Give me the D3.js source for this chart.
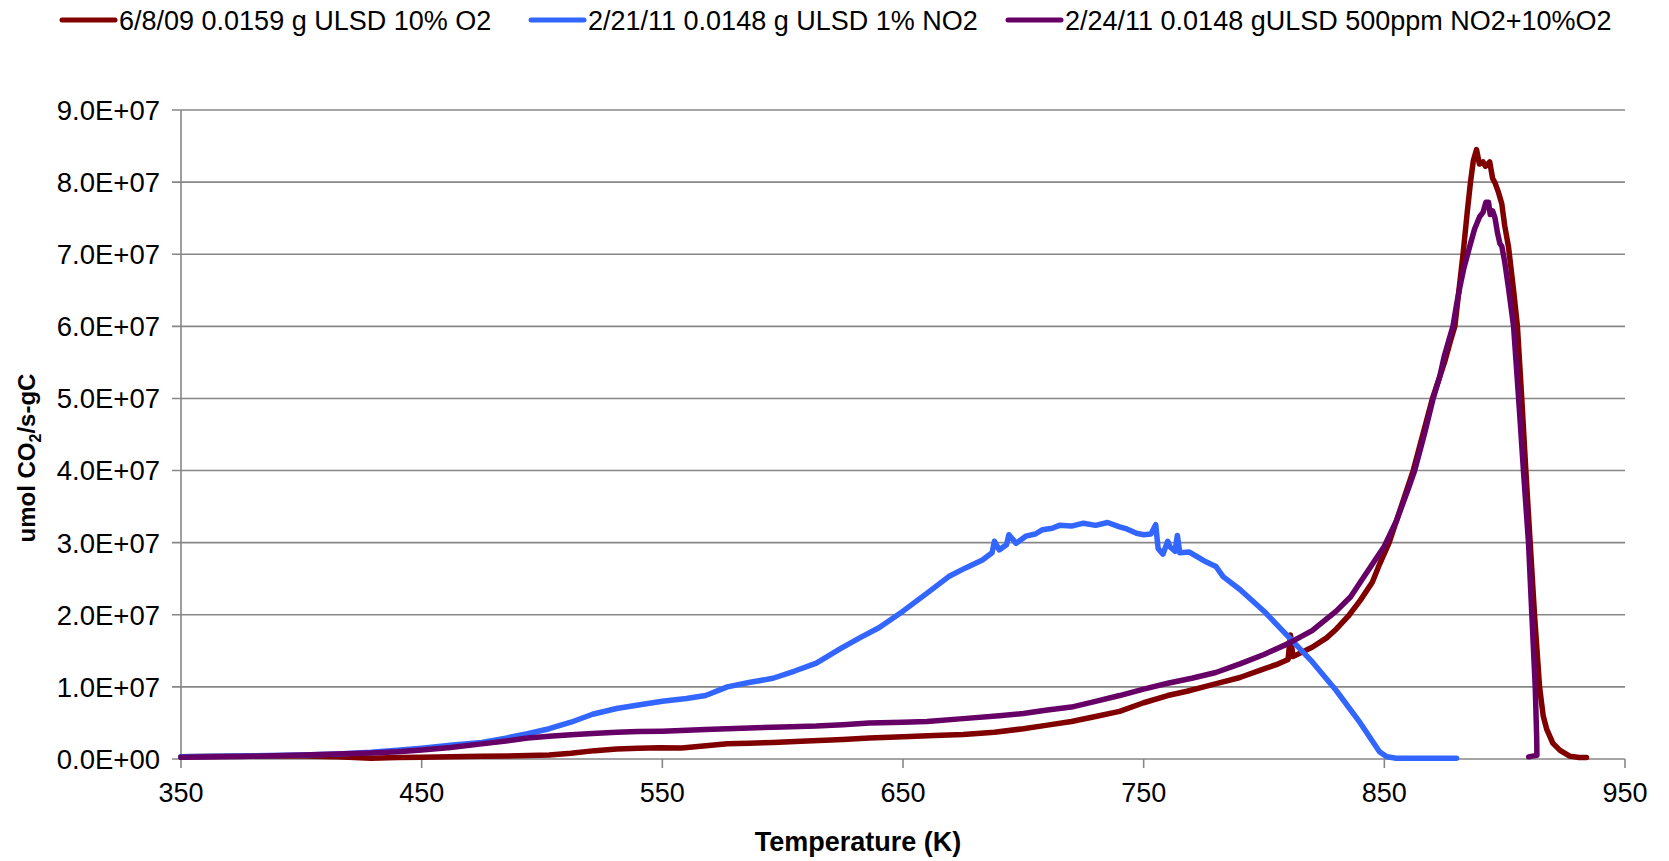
<!DOCTYPE html>
<html>
<head>
<meta charset="utf-8">
<script src="https://cdn.jsdelivr.net/npm/d3@7"></script>
<style>
  body { margin: 0; background: #fff; }
  svg text { font-family: "Liberation Sans", Arial, sans-serif; fill: #000; }
</style>
</head>
<body>
<div id="chart"></div>
<script>
// values are in units of 1E+07 umol CO2/s-gC, temperature in K
const seriesNames = [
  '6/8/09 0.0159 g ULSD 10% O2',
  '2/21/11 0.0148 g ULSD 1% NO2',
  '2/24/11 0.0148 gULSD 500ppm NO2+10%O2'
];
const seriesColors = ['#800000', '#3366ff', '#660066'];

const redData = [
  [350,0.03],[375,0.04],[401,0.04],[415,0.03],[429,0.01],[440,0.02],[450,0.023],[462,0.03],
  [475,0.037],[490,0.045],[503,0.056],[512,0.08],[522,0.116],[531,0.14],[540,0.15],[549,0.155],
  [558,0.153],[567,0.18],[577,0.21],[586,0.22],[596,0.23],[610,0.25],[625,0.27],[636,0.29],
  [650,0.31],[663,0.325],[675,0.34],[688,0.37],[700,0.42],[710,0.47],[720,0.52],[730,0.59],
  [740,0.66],[750,0.78],[760,0.88],[768,0.94],[775,1.0],[783,1.07],[790,1.13],[800,1.25],
  [806,1.32],[810,1.38],[811,1.72],[812,1.42],[820,1.55],[826,1.68],[830,1.8],[835,1.98],
  [840,2.2],[845,2.45],[848,2.7],[852,3.0],[856,3.4],[859,3.7],[862,4.0],[866,4.5],[870,5.0],
  [873,5.3],[875,5.5],[877.5,5.8],[879.3,6.0],[881,6.5],[882.7,7.0],[884.5,7.6],[885.8,8.0],
  [887,8.3],[888.3,8.45],[889.5,8.25],[891,8.28],[892,8.22],[893.8,8.28],[895,8.05],[896,7.99],
  [897.5,7.85],[898.8,7.7],[900,7.4],[901.6,7.1],[903.7,6.5],[905.3,6.0],[907.1,5.0],[908.8,4.0],
  [910.6,3.0],[912.4,2.0],[914.5,1.0],[916,0.6],[917.5,0.41],[920,0.22],[923,0.12],[927,0.04],
  [931,0.02],[934,0.02]
];

const blueData = [
  [350,0.03],[375,0.04],[400,0.056],[415,0.07],[429,0.093],[440,0.12],[450,0.15],[462,0.19],
  [475,0.23],[485,0.29],[494,0.35],[503,0.42],[512,0.51],[521,0.62],[531,0.70],[540,0.75],
  [550,0.80],[560,0.84],[568,0.88],[577,1.0],[586,1.06],[596,1.12],[605,1.22],[614,1.33],
  [624,1.53],[632,1.68],[640,1.82],[650,2.05],[660,2.30],[669,2.53],[676,2.65],[683,2.76],
  [687,2.86],[688,3.02],[690,2.90],[693,2.97],[694,3.11],[697,2.99],[701,3.09],[705,3.12],
  [708,3.18],[712,3.20],[715,3.24],[720,3.23],[725,3.27],[730,3.24],[735,3.28],[740,3.22],
  [743,3.19],[747,3.13],[750,3.11],[753,3.12],[755,3.25],[756,2.92],[758,2.84],[760,3.02],
  [761,2.94],[763,2.88],[764,3.10],[765,2.86],[769,2.87],[775,2.75],[780,2.67],[783,2.53],
  [790,2.35],[800,2.05],[810,1.70],[820,1.35],[830,0.95],[840,0.50],[845,0.25],[848,0.10],
  [851,0.03],[855,0.01],[865,0.01],[880,0.01]
];

const purpleData = [
  [350,0.023],[375,0.035],[401,0.056],[415,0.07],[429,0.084],[440,0.1],[450,0.126],[462,0.16],
  [475,0.21],[485,0.25],[494,0.29],[503,0.315],[512,0.335],[521,0.355],[531,0.37],[540,0.38],
  [550,0.386],[568,0.41],[586,0.43],[600,0.445],[614,0.456],[625,0.475],[636,0.5],[650,0.51],
  [660,0.52],[675,0.56],[690,0.6],[700,0.63],[710,0.68],[720,0.72],[730,0.8],[740,0.88],
  [750,0.97],[760,1.05],[770,1.12],[780,1.2],[790,1.32],[800,1.45],[810,1.6],[820,1.78],
  [830,2.05],[836,2.25],[840,2.45],[845,2.7],[850,2.95],[855,3.3],[860,3.75],[862.6,4.0],
  [865,4.3],[867,4.55],[870.3,5.0],[873,5.3],[875,5.6],[878.5,6.0],[880,6.3],[881.3,6.53],
  [883,6.8],[885.5,7.11],[887.5,7.35],[889.6,7.52],[891,7.58],[892.2,7.72],[893.3,7.72],
  [894,7.55],[895,7.6],[896,7.5],[897,7.3],[898,7.15],[898.8,7.11],[900,6.9],[901.6,6.53],
  [903.7,6.0],[905.8,5.0],[907.8,4.0],[909.9,3.0],[911.3,2.0],[912.7,1.0],[913.3,0.3],
  [913.4,0.05],[911.5,0.04],[910,0.03]
];

const xTicks = [350, 450, 550, 650, 750, 850, 950];
const yTicks = [0, 1, 2, 3, 4, 5, 6, 7, 8, 9];
const yTickLabels = ['0.0E+00','1.0E+07','2.0E+07','3.0E+07','4.0E+07','5.0E+07','6.0E+07','7.0E+07','8.0E+07','9.0E+07'];

const width = 1669, height = 861;
const plot = { left: 181, right: 1625, top: 110, bottom: 759 };
const gridColor = '#878787';

const svg = d3.select('#chart').append('svg')
  .attr('width', width)
  .attr('height', height);

const x = d3.scaleLinear().domain([350, 950]).range([plot.left, plot.right]);
const y = d3.scaleLinear().domain([0, 9]).range([plot.bottom, plot.top]);

// horizontal gridlines
svg.append('g')
  .selectAll('line')
  .data(yTicks)
  .enter().append('line')
  .attr('x1', plot.left - 9)
  .attr('x2', plot.right)
  .attr('y1', d => y(d))
  .attr('y2', d => y(d))
  .attr('stroke', gridColor)
  .attr('stroke-width', 1.6);

// left axis line
svg.append('line')
  .attr('x1', plot.left).attr('x2', plot.left)
  .attr('y1', plot.top).attr('y2', plot.bottom)
  .attr('stroke', gridColor).attr('stroke-width', 1.6);

// x ticks
svg.append('g')
  .selectAll('line')
  .data(xTicks)
  .enter().append('line')
  .attr('x1', d => x(d)).attr('x2', d => x(d))
  .attr('y1', plot.bottom).attr('y2', plot.bottom + 9)
  .attr('stroke', gridColor).attr('stroke-width', 1.6);

// y tick labels
svg.append('g')
  .selectAll('text')
  .data(yTicks)
  .enter().append('text')
  .attr('x', 160)
  .attr('y', d => y(d))
  .attr('dy', '0.36em')
  .attr('text-anchor', 'end')
  .style('font-size', '27.5px')
  .text((d, i) => yTickLabels[i]);

// x tick labels
svg.append('g')
  .selectAll('text')
  .data(xTicks)
  .enter().append('text')
  .attr('x', d => x(d))
  .attr('y', 802)
  .attr('text-anchor', 'middle')
  .style('font-size', '27px')
  .text(d => d);

// axis titles
svg.append('text')
  .attr('x', 858)
  .attr('y', 851)
  .attr('text-anchor', 'middle')
  .style('font-size', '27px')
  .style('font-weight', 'bold')
  .text('Temperature (K)');

const yTitle = svg.append('text')
  .attr('transform', 'translate(35,458) rotate(-90)')
  .attr('text-anchor', 'middle')
  .style('font-size', '24px')
  .style('font-weight', 'bold');
yTitle.append('tspan').text('umol CO');
yTitle.append('tspan').attr('dy', 6).style('font-size', '16px').text('2');
yTitle.append('tspan').attr('dy', -6).text('/s-gC');

// series lines
const line = d3.line()
  .x(d => x(d[0]))
  .y(d => y(d[1]));

const allSeries = [redData, blueData, purpleData];

svg.append('g')
  .selectAll('path')
  .data(allSeries)
  .enter().append('path')
  .attr('d', line)
  .attr('fill', 'none')
  .attr('stroke', (d, i) => seriesColors[i])
  .attr('stroke-width', 5.5)
  .attr('stroke-linejoin', 'round')
  .attr('stroke-linecap', 'round');

// legend
const legendX = [62, 531, 1008];
const legend = svg.append('g')
  .selectAll('g')
  .data(seriesNames)
  .enter().append('g')
  .attr('transform', (d, i) => `translate(${legendX[i]},20)`);

legend.append('line')
  .attr('x1', 0).attr('x2', 53)
  .attr('y1', 0).attr('y2', 0)
  .attr('stroke', (d, i) => seriesColors[i])
  .attr('stroke-width', 5)
  .attr('stroke-linecap', 'round');

legend.append('text')
  .attr('x', 57)
  .attr('y', 0)
  .attr('dy', '0.36em')
  .style('font-size', '27px')
  .text(d => d);
</script>
</body>
</html>
